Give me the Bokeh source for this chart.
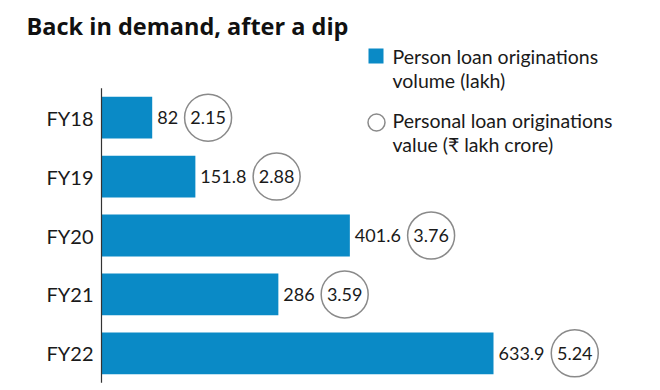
from bokeh.plotting import figure
from bokeh.models import Range1d, ColumnDataSource
from bokeh.core.properties import value
from bokeh.embed import file_html
from bokeh.resources import INLINE

# ---- data ----
categories = ["FY18", "FY19", "FY20", "FY21", "FY22"]
volume_lakh = [82, 151.8, 401.6, 286, 633.9]
value_lakh_crore = [2.15, 2.88, 3.76, 3.59, 5.24]
title_text = "Back in demand, after a dip"
legend_volume = ["Person loan originations", "volume (lakh)"]
legend_value = ["Personal loan originations", "value (\u20b9 lakh crore)"]

# ---- layout constants (pixels) ----
W, H = 656, 386
AXIS_X = 101         # canvas x of the zero line
PX_PER_UNIT = 0.6184 # pixels per lakh
ROW = 58.9           # pixels per category row
FIRST_ROW_Y = 117.2  # canvas y of first row centre

FONT = "Lato"
TITLE_FONT = "Open Sans"
BLUE = "#0a8ac6"
TXT = "#1a1a1a"
GREY = "#8a8a8a"
NUM_SIZE = 18        # px, numbers
DIGIT_W = 0.58 * NUM_SIZE
DOT_W = 0.25 * NUM_SIZE

idx = list(range(len(categories)))
vol_labels = [f"{v:g}" for v in volume_lakh]
val_labels = [f"{v:.2f}" for v in value_lakh_crore]


def label_width(s):
    return sum(DOT_W if c == "." else DIGIT_W for c in s)


circle_x = [v + (5 + label_width(s) + 6.5 + 23.5) / PX_PER_UNIT
            for v, s in zip(volume_lakh, vol_labels)]

src = ColumnDataSource(dict(cat=categories, y=idx, vol=volume_lakh, vol_lbl=vol_labels,
                            cx=circle_x, val_lbl=val_labels, zero=[0] * len(idx)))

p = figure(width=W, height=H, output_backend="svg", toolbar_location=None,
           x_range=Range1d(-AXIS_X / PX_PER_UNIT, (W - AXIS_X) / PX_PER_UNIT),
           y_range=Range1d((H - FIRST_ROW_Y) / ROW, -FIRST_ROW_Y / ROW),
           x_axis_location=None, y_axis_location=None, min_border=0,
           outline_line_color=None, background_fill_color="white",
           border_fill_color="white")
p.grid.visible = False
p.extra_x_ranges = {"px": Range1d(0, W)}
p.extra_y_ranges = {"px": Range1d(H, 0)}

# bars
p.hbar(y="y", left=0, right="vol", height=0.71, source=src,
       fill_color=BLUE, line_color=None)

# axis line
p.segment(x0=[0], y0=[-0.5], x1=[0], y1=[len(categories) - 0.5],
          line_color="#333333", line_width=1.2)

# category labels
p.text(x="zero", y="y", text="cat", source=src, x_offset=-8,
       text_align="right", text_baseline="middle",
       text_font=value(FONT), text_font_size="20px", text_color=TXT)

# volume labels
p.text(x="vol", y="y", text="vol_lbl", source=src, x_offset=5,
       text_align="left", text_baseline="middle",
       text_font=value(FONT), text_font_size=f"{NUM_SIZE}px", text_color=TXT)

# value circles
p.scatter(x="cx", y="y", source=src, marker="circle", size=47,
          fill_color="white", line_color=GREY, line_width=1.5)
p.text(x="cx", y="y", text="val_lbl", source=src,
       text_align="center", text_baseline="middle",
       text_font=value(FONT), text_font_size=f"{NUM_SIZE}px", text_color=TXT)

# title
p.text(x=[26], y=[25], text=[title_text], x_range_name="px", y_range_name="px",
       text_font=value(TITLE_FONT), text_font_style="bold", text_font_size="23.5px",
       text_baseline="middle", text_align="left", text_color="#111111")

# legend
p.scatter(x=[375.5], y=[55.5], x_range_name="px", y_range_name="px",
          marker="square", size=15, fill_color=BLUE, line_color=None)
p.scatter(x=[376], y=[122], x_range_name="px", y_range_name="px",
          marker="circle", size=17, fill_color="white", line_color=GREY, line_width=1.5)
legend_lines = legend_volume + legend_value
p.text(x=[392] * 4, y=[56, 79.5, 120, 143.5], text=legend_lines,
       x_range_name="px", y_range_name="px",
       text_font=value(FONT), text_font_size="19.5px", text_color=TXT,
       text_baseline="middle", text_align="left")

open("out.html", "w").write(file_html(p, INLINE))
